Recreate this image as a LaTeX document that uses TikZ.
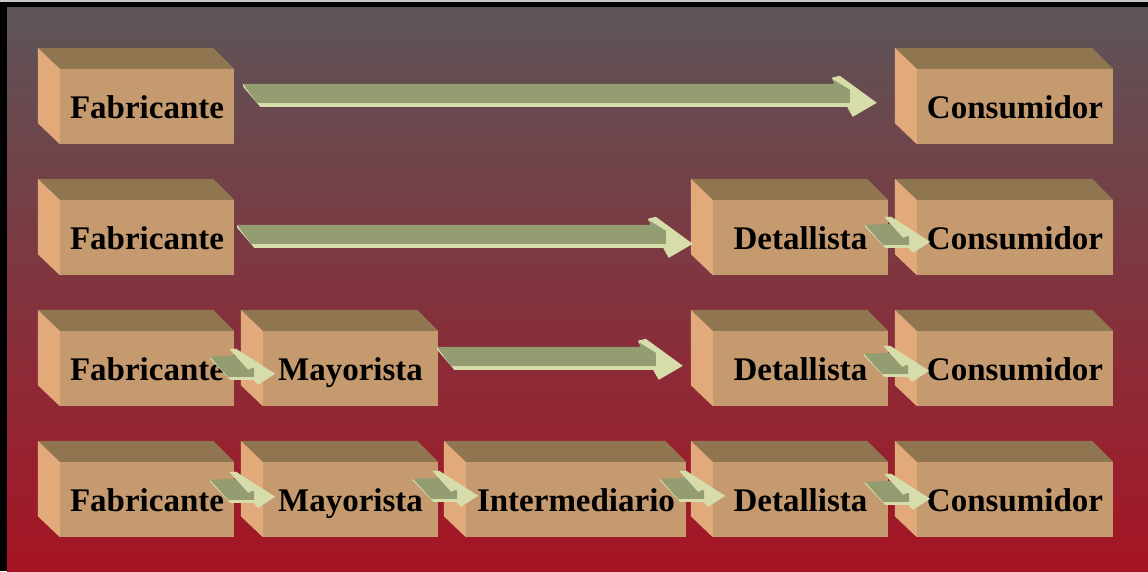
\documentclass[tikz,border=0pt]{standalone}
\usepackage{fontspec}
\setmainfont{Liberation Serif}
\usetikzlibrary{calc}
\definecolor{bgtop}{RGB}{92,85,88}
\definecolor{bgbot}{RGB}{166,20,36}
\definecolor{boxfront}{RGB}{196,154,110}
\definecolor{boxtop}{RGB}{143,117,80}
\definecolor{boxside}{RGB}{226,170,122}
\definecolor{arrolive}{RGB}{148,156,114}
\definecolor{arrlight}{RGB}{214,220,170}
\definecolor{topline}{RGB}{200,200,200}
\tikzset{
  cube/.style={fill=boxfront, minimum height=75pt, inner sep=0pt, text height=24pt, text depth=0pt,
    font=\fontsize{33}{36}\selectfont\bfseries},
  cubetop/.style={fill=boxtop},
  cubeside/.style={fill=boxside},
  arrbody/.style={fill=arrolive},
  arrface/.style={fill=arrlight},
}
% box: name, x centre, y centre, width, text
\newcommand\cube[5]{%
  \node[cube, minimum width=#4pt] (#1) at (#2,#3) {#5};
  \fill[cubetop] (#1.north west) -- ++(-22,21) -- ($(#1.north east)+(-21,21)$) -- (#1.north east) -- cycle;
  \fill[cubeside] (#1.north west) -- ++(-22,21) -- ($(#1.south west)+(-22,21)$) -- (#1.south west) -- cycle;
}
% long arrow: from, to, dx, dy (down), gap before target
\newcommand\bigarrow[5]{%
  \path let \p1=($(#1.north east)+(#3,-#4)$), \p2=(#2.north west) in
    \pgfextra{\xdef\arrX{\x1}\xdef\arrY{\y1}\pgfmathsetmacro\tmpL{\x2-\x1-(#5)-24}\xdef\arrL{\tmpL}};
  \begin{scope}[shift={(\arrX,\arrY)}]
    \fill[arrface] (\arrL-21,6) -- (\arrL-13,8) -- (\arrL+24,-19) -- (\arrL,-33) -- (\arrL-3,-28) -- cycle;
    \fill[arrface] (0,0) -- (14,-19) -- (\arrL,-19) -- (\arrL,-23) -- (17,-23) -- (0,-3) -- cycle;
    \fill[arrbody] (0,0) -- (\arrL-19,0) -- (\arrL-19,4) -- (\arrL-3,-6) -- (\arrL-3,-19) -- (14,-19) -- cycle;
  \end{scope}}
% short arrow: from, to, dx, dy (down)
\newcommand\smallarrow[4]{%
  \begin{scope}[shift={($(#1.north east)+(#3,-#4)$)}]
    \fill[arrface] (20,8) -- (26,8) -- (65,-17) -- (48,-28) -- (42,-22) -- cycle;
    \fill[arrface] (0,0) -- (18,-20) -- (44,-20) -- (44,-23) -- (20,-23) -- (0,-2) -- cycle;
    \fill[arrbody] (0,0) -- (24,1) -- (44,-12) -- (44,-20) -- (18,-20) -- cycle;
    \fill[arrface] (19,8) -- (26,8) -- (44,-10) -- (38,-13) -- cycle;
  \end{scope}}
\begin{document}
\begin{tikzpicture}[x=1pt,y=1pt]
\useasboundingbox (0,0) rectangle (1148,571);
\shade[top color=bgtop, bottom color=bgbot] (7,0) rectangle (1148,564);
\fill[black] (0,0) rectangle (7,569);
\fill[black] (0,564) rectangle (1148,569);
\fill[topline] (0,569) rectangle (1148,571);
% row 1
\cube{f1}{147}{464.5}{174}{Fabricante}
\cube{c1}{1015}{464.5}{196}{Consumidor}
% row 2
\cube{f2}{147}{333.5}{174}{Fabricante}
\cube{d2}{800.5}{333.5}{175}{Detallista}
\cube{c2}{1015}{333.5}{196}{Consumidor}
% row 3
\cube{f3}{147}{202.5}{174}{Fabricante}
\cube{m3}{350.5}{202.5}{175}{Mayorista}
\cube{d3}{800.5}{202.5}{175}{Detallista}
\cube{c3}{1015}{202.5}{196}{Consumidor}
% row 4
\cube{f4}{147}{71.5}{174}{Fabricante}
\cube{m4}{350.5}{71.5}{175}{Mayorista}
\cube{i4}{576}{71.5}{220}{Intermediario}
\cube{d4}{800.5}{71.5}{175}{Detallista}
\cube{c4}{1015}{71.5}{196}{Consumidor}
% arrows
\bigarrow{f1}{c1}{9}{15}{40}
\bigarrow{f2}{d2}{3}{25}{20}
\smallarrow{d2}{c2}{-23}{25}
\smallarrow{f3}{m3}{-24}{26}
\bigarrow{m3}{d3}{-1}{16}{30}
\smallarrow{d3}{c3}{-24}{23}
\smallarrow{f4}{m4}{-24}{18}
\smallarrow{m4}{i4}{-25}{17}
\smallarrow{i4}{d4}{-26}{17}
\smallarrow{d4}{c4}{-23}{20}
\end{tikzpicture}
\end{document}
